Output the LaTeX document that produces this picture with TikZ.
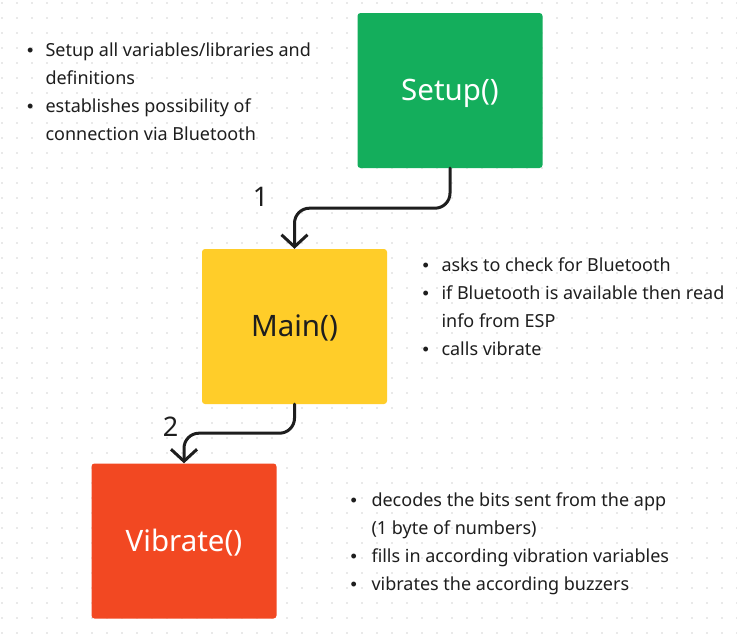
\documentclass[tikz,border=0pt]{standalone}
\usepackage{fontspec}
\setmainfont{Noto Sans}
\newfontfamily\blfont{Liberation Sans}
\usetikzlibrary{arrows.meta}
\definecolor{gbox}{HTML}{14AE5C}
\definecolor{ybox}{HTML}{FFCD29}
\definecolor{rbox}{HTML}{F24822}
\definecolor{ink}{HTML}{1E1E1E}
\definecolor{dotc}{HTML}{D4D4D4}
\tikzset{
  block/.style={minimum width=185pt, minimum height=155pt, rounded corners=3pt, inner sep=0pt,
    text height=20.7pt, text depth=0pt, font=\fontsize{29.5}{34}\selectfont},
  conn/.style={draw=ink, line width=3pt, rounded corners=15pt, line cap=round, line join=round,
    -{Straight Barb[length=12pt,width=26pt,line width=3pt]}},
  steplabel/.style={text=ink, font=\fontsize{27}{30}\selectfont, inner sep=0pt,
    text height=19.5pt, text depth=0pt},
  notes/.style={text=ink, anchor=base west, inner sep=0pt, font=\fontsize{18}{28}\selectfont}
}
\newcommand{\bl}{{\blfont\textbullet}}
\begin{document}
\begin{tikzpicture}[x=1pt,y=-1pt]
\useasboundingbox (0,0) rectangle (737,643);
\fill[white] (0,0) rectangle (737,643);
\foreach \i in {0,...,49}{
  \foreach \j in {0,...,42}{
    \fill[dotc] (2+15*\i,3+15*\j) circle (0.8pt);
  }
}
\node[block, fill=gbox, text=white] (setup) at (450,90.5) {Setup()};
\node[block, fill=ybox, text=ink] (main) at (294.5,326.5) {Main()};
\node[block, fill=rbox, text=white] (vib) at (184,541) {Vibrate()};

\draw[conn] (setup.south) -- ++(0,40) -| (main.north);
\draw[conn] (main.south) -- ++(0,29) -| (vib.north);

\node[steplabel] (l1) at (260.5,197) {1};
\node[steplabel] (l2) at (170.5,427) {2};

\node[notes] (n1) at (27,56.5) {\begin{tabular}[t]{@{}l@{\hspace{12pt}}l@{}}
\bl & Setup all variables/libraries and\\
 & definitions\\
\bl & establishes possibility of\\
 & connection via Bluetooth
\end{tabular}};
\node[notes] (n2) at (422.5,271.5) {\begin{tabular}[t]{@{}l@{\hspace{12.5pt}}l@{}}
\bl & asks to check for Bluetooth\\
\bl & if Bluetooth is available then read\\
 & info from ESP\\
\bl & calls vibrate
\end{tabular}};
\node[notes] (n3) at (350.5,506.5) {\begin{tabular}[t]{@{}l@{\hspace{14.5pt}}l@{}}
\bl & decodes the bits sent from the app\\
 & (1 byte of numbers)\\
\bl & fills in according vibration variables\\
\bl & vibrates the according buzzers
\end{tabular}};
\end{tikzpicture}
\end{document}
